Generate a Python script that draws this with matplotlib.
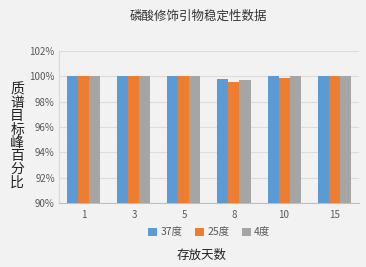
import numpy as np
import matplotlib.pyplot as plt
from matplotlib.ticker import FuncFormatter

plt.rcParams['font.family'] = ['Noto Sans CJK SC', 'DejaVu Sans']

days = ['1', '3', '5', '8', '10', '15']
t37 = [100.0, 100.0, 100.0, 99.82, 100.0, 100.0]
t25 = [100.0, 100.0, 100.0, 99.52, 99.85, 100.0]
t4 = [100.0, 100.0, 100.0, 99.68, 100.0, 100.0]
series = [('37度', t37, '#5b9bd5'), ('25度', t25, '#ed7d31'), ('4度', t4, '#a5a5a5')]

bg = '#f2f2f2'
fig = plt.figure(figsize=(3.66, 2.67), dpi=100, facecolor=bg)
ax = fig.add_axes([0.161, 0.240, 0.820, 0.569], facecolor=bg)

x = np.arange(len(days))
w = 0.22
for i, (name, vals, col) in enumerate(series):
    ax.bar(x + (i - 1) * w, np.array(vals) - 90, w, bottom=90, color=col, label=name, zorder=3)

ax.set_xlim(-0.5, len(days) - 0.5)
ax.set_ylim(90, 102)
ax.set_yticks(range(90, 103, 2))
ax.yaxis.set_major_formatter(FuncFormatter(lambda v, p: f'{v:.0f}%'))
ax.set_xticks(x)
ax.set_xticklabels(days)
ax.tick_params(axis='both', length=0, labelsize=7, colors='#595959')
ax.tick_params(axis='x', pad=5)
ax.tick_params(axis='y', pad=3)
ax.grid(axis='y', color='#dcdcdc', linewidth=0.8, zorder=0)
for s in ['top', 'right']:
    ax.spines[s].set_visible(False)
ax.spines['left'].set_color('#d9d9d9')
ax.spines['bottom'].set_color('#bfbfbf')

fig.text(0.541, 0.94, '磷酸修饰引物稳定性数据', ha='center', va='center', fontsize=9, color='#333333')
fig.text(0.047, 0.49, '\n'.join('质谱目标峰百分比'), ha='center', va='center', fontsize=10,
         fontweight='medium', linespacing=0.93, color='#222222')
fig.text(0.552, 0.042, '存放天数', ha='center', va='center', fontsize=9, color='#222222')

ax.legend(loc='upper center', bbox_to_anchor=(0.5, -0.1), ncol=3, frameon=False, fontsize=7.5,
          handlelength=0.9, handleheight=0.9, handletextpad=0.3, columnspacing=1.2,
          labelcolor='#595959')

fig.savefig('out.png', dpi=100, facecolor=bg)
